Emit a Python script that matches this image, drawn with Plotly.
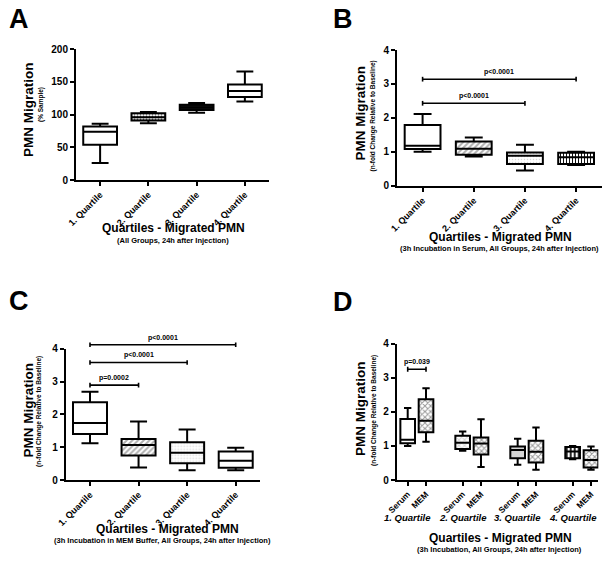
import plotly.graph_objects as go

W, H = 611, 562

quartiles = ["1. Quartile", "2. Quartile", "3. Quartile", "4. Quartile"]
group_labels = ["1. Quartile", "2. Quartile", "3. Quartile", "4. Quartile"]
media = ["Serum", "MEM"]

# Panel A: PMN migration (% sample), all groups
a_low = [26, 87, 103, 120]
a_q1 = [54, 91, 107, 127]
a_med = [74, 96, 111, 136]
a_q3 = [82, 102, 115, 146]
a_high = [86, 104, 118, 166]

# Panel B: 3h incubation in serum (n-fold change)
b_low = [1.00, 0.86, 0.45, 0.61]
b_q1 = [1.08, 0.91, 0.64, 0.64]
b_med = [1.18, 1.09, 0.88, 0.84]
b_q3 = [1.79, 1.30, 0.98, 0.97]
b_high = [2.11, 1.42, 1.21, 1.00]

# Panel C: 3h incubation in MEM buffer (n-fold change)
c_low = [1.12, 0.38, 0.30, 0.30]
c_q1 = [1.40, 0.75, 0.51, 0.37]
c_med = [1.74, 1.07, 0.83, 0.59]
c_q3 = [2.37, 1.25, 1.15, 0.87]
c_high = [2.69, 1.78, 1.54, 0.98]

# significance brackets: (from index, to index, height, label)
b_sig = [(0, 3, 3.14, "p<0.0001"), (0, 2, 2.43, "p<0.0001")]
c_sig = [(0, 3, 4.12, "p<0.0001"), (0, 2, 3.58, "p<0.0001"), (0, 1, 2.89, "p=0.0002")]
d_sig = [(0, 1, 3.25, "p=0.039")]

FONT = "Liberation Sans, Arial, sans-serif"


def px(x):
    return x / W


def py(y):
    return 1 - y / H


fig = go.Figure()
shapes = []
annotations = []


def add_panel(n, xs, low, q1, med, q3, high, pat, fg, bg, size, sol, width):
    xa = "x" if n == 1 else f"x{n}"
    ya = "y" if n == 1 else f"y{n}"
    fig.add_trace(go.Bar(
        x=xs, y=[b - a for a, b in zip(q1, q3)], base=q1, width=width,
        marker=dict(color=bg, line=dict(width=0),
                    pattern=dict(shape=pat, fgcolor=fg, bgcolor=bg, size=size,
                                 solidity=sol, fillmode="replace")),
        xaxis=xa, yaxis=ya, showlegend=False, hoverinfo="skip"))
    fig.add_trace(go.Box(
        x=xs, q1=q1, median=med, q3=q3, lowerfence=low, upperfence=high,
        width=width, whiskerwidth=0.5, fillcolor="rgba(0,0,0,0)",
        line=dict(color="black", width=2), xaxis=xa, yaxis=ya,
        showlegend=False, hoverinfo="skip"))


def add_sig(n, sigs, xs, ymax):
    xa = "x" if n == 1 else f"x{n}"
    yd = ("y" if n == 1 else f"y{n}") + " domain"
    for i0, i1, yv, label in sigs:
        f = yv / ymax
        d = 0.07 / ymax
        x0, x1 = xs[i0], xs[i1]
        line = dict(color="black", width=1.6)
        shapes.append(dict(type="line", xref=xa, yref=yd, x0=x0, x1=x1, y0=f, y1=f, line=line))
        for xx in (x0, x1):
            shapes.append(dict(type="line", xref=xa, yref=yd, x0=xx, x1=xx, y0=f - d, y1=f + d, line=line))
        annotations.append(dict(text=label, xref=xa, yref=yd, x=(x0 + x1) / 2, y=f,
                                yanchor="bottom", yshift=1, showarrow=False,
                                font=dict(size=7, color="#000000", family=FONT, weight="bold")))


idx = list(range(len(quartiles)))

# Panel A
add_panel(1, idx, a_low, a_q1, a_med, a_q3, a_high,
          ["", ".", "", "|"], ["black", "white", "black", "black"],
          ["white", "#2a2a2a", "#111111", "white"], [4, 3, 4, 4], [0.3, 0.35, 0.3, 0.5], 0.7)
# Panel B
add_panel(2, idx, b_low, b_q1, b_med, b_q3, b_high,
          ["", "/", ".", "|"], ["black", "#111111", "#999999", "white"],
          ["white", "#b0b0b0", "#d6d6d6", "#111111"], [4, 4, 3, 3], [0.3, 0.5, 0.2, 0.35], 0.7)
# Panel C
add_panel(3, idx, c_low, c_q1, c_med, c_q3, c_high,
          ["", "/", ".", "|"], ["black", "#111111", "#999999", "black"],
          ["white", "#b0b0b0", "#dcdcdc", "white"], [4, 4, 3, 3], [0.3, 0.5, 0.25, 0.55], 0.7)

# Panel D: Serum and MEM side by side within each quartile group
d_pos, d_low, d_q1, d_med, d_q3, d_high = [], [], [], [], [], []
d_pat, d_fg, d_bg = [], [], []
serum_style = [("", "black", "white"), ("x", "#555555", "#d8d8d8"),
               ("", "black", "#d4d4d4"), ("|", "white", "#111111")]
for g in range(len(group_labels)):
    for k, src in enumerate([(b_low, b_q1, b_med, b_q3, b_high), (c_low, c_q1, c_med, c_q3, c_high)]):
        d_pos.append(3 * g + k)
        d_low.append(src[0][g]); d_q1.append(src[1][g]); d_med.append(src[2][g])
        d_q3.append(src[3][g]); d_high.append(src[4][g])
        if k == 0:
            s = serum_style[g]
        else:
            s = ("x", "#222222", "#9a9a9a")
        d_pat.append(s[0]); d_fg.append(s[1]); d_bg.append(s[2])
add_panel(4, d_pos, d_low, d_q1, d_med, d_q3, d_high, d_pat, d_fg, d_bg,
          [4] * 8, [0.45] * 8, 0.8)

add_sig(2, b_sig, idx, 4)
add_sig(3, c_sig, idx, 4)
add_sig(4, d_sig, d_pos, 4)

# axes
axis_common = dict(showline=True, linewidth=2, linecolor="black", ticks="outside",
                   ticklen=4, tickwidth=2, tickcolor="black", showgrid=False,
                   zeroline=False, mirror=False, automargin=False)
domains = {
    1: ([px(76), px(269)], [py(180), py(49.3)]),
    2: ([px(397), px(601.7)], [py(185.7), py(50)]),
    3: ([px(65.7), px(260)], [py(480), py(348.7)]),
    4: ([px(396.7), px(598.3)], [py(480), py(343.7)]),
}
for n in range(1, 5):
    xkey = "xaxis" if n == 1 else f"xaxis{n}"
    ykey = "yaxis" if n == 1 else f"yaxis{n}"
    xd, yd = domains[n]
    if n < 4:
        xcfg = dict(domain=xd, range=[-0.5, 3.5], tickmode="array", tickvals=idx,
                    ticktext=quartiles, tickangle=-45,
                    tickfont=dict(size=9, color="black", family=FONT, weight="bold"),
                    anchor="y" if n == 1 else f"y{n}", **axis_common)
    else:
        xcfg = dict(domain=xd, range=[-0.6, 10.4], tickmode="array", tickvals=d_pos,
                    ticktext=[media[i % 2] for i in range(8)], tickangle=-45,
                    tickfont=dict(size=8.5, color="black", family=FONT, weight="bold"),
                    anchor="y4", **axis_common)
    if n == 1:
        ycfg = dict(domain=yd, range=[0, 200], dtick=50, anchor="x")
    else:
        ycfg = dict(domain=yd, range=[0, 4], dtick=1, anchor=f"x{n}")
    ycfg.update(tickfont=dict(size=10, color="black", family=FONT, weight="bold"), **axis_common)
    fig.update_layout({xkey: xcfg, ykey: ycfg})


def txt(text, x, y, size, angle=0, italic=False):
    annotations.append(dict(text=text, xref="paper", yref="paper", x=px(x), y=py(y),
                            xanchor="center", yanchor="middle", textangle=angle, showarrow=False,
                            font=dict(size=size, color="black", family=FONT, weight="bold",
                                      style="italic" if italic else "normal")))


# panel letters
for letter, x, y in [("A", 19, 19.5), ("B", 343, 19.5), ("C", 19, 300.5), ("D", 343, 301.5)]:
    txt(letter, x, y, 27)

# y titles
ysub = ["(% Sample)", "(n-fold Change Relative to Baseline)",
        "(n-fold Change Relative to Baseline)", "(n-fold Change Relative to Baseline)"]
ypos = [(28, 110, 41, 105), (360.5, 113, 372.5, 116), (28, 410.5, 39, 412), (360.5, 408.5, 373.5, 410.5)]
for sub, (x1, y1, x2, y2) in zip(ysub, ypos):
    txt("PMN Migration", x1, y1, 13.5, angle=-90)
    txt(sub, x2, y2, 6.5, angle=-90)

# x titles
xsub = ["(All Groups, 24h after Injection)",
        "(3h Incubation in Serum, All Groups, 24h after Injection)",
        "(3h Incubation in MEM Buffer, All Groups, 24h after Injection)",
        "(3h Incubation, All Groups, 24h after Injection)"]
xpos = [(173, 228.5, 173, 240.5), (501, 237.5, 499.5, 249), (167, 528.5, 162.5, 540),
        (500, 538, 499.5, 549.5)]
for sub, (x1, y1, x2, y2) in zip(xsub, xpos):
    txt("Quartiles - Migrated PMN", x1, y1, 12)
    txt(sub, x2, y2, 7.5)

# group labels in panel D
for g, lab in enumerate(group_labels):
    annotations.append(dict(text=lab, xref="x4", yref="paper", x=3 * g, y=py(517),
                            xanchor="center", yanchor="middle", showarrow=False,
                            font=dict(size=9.5, color="black", family=FONT, weight="bold",
                                      style="italic")))

fig.update_layout(
    width=W, height=H, margin=dict(l=0, r=0, t=0, b=0),
    paper_bgcolor="white", plot_bgcolor="white",
    font=dict(family=FONT, color="black"),
    shapes=shapes, annotations=annotations, showlegend=False,
    barmode="overlay",
)

fig.write_html("out.html", config={"displayModeBar": False},
               post_script="document.body.style.margin='0';document.body.style.padding='0';")
